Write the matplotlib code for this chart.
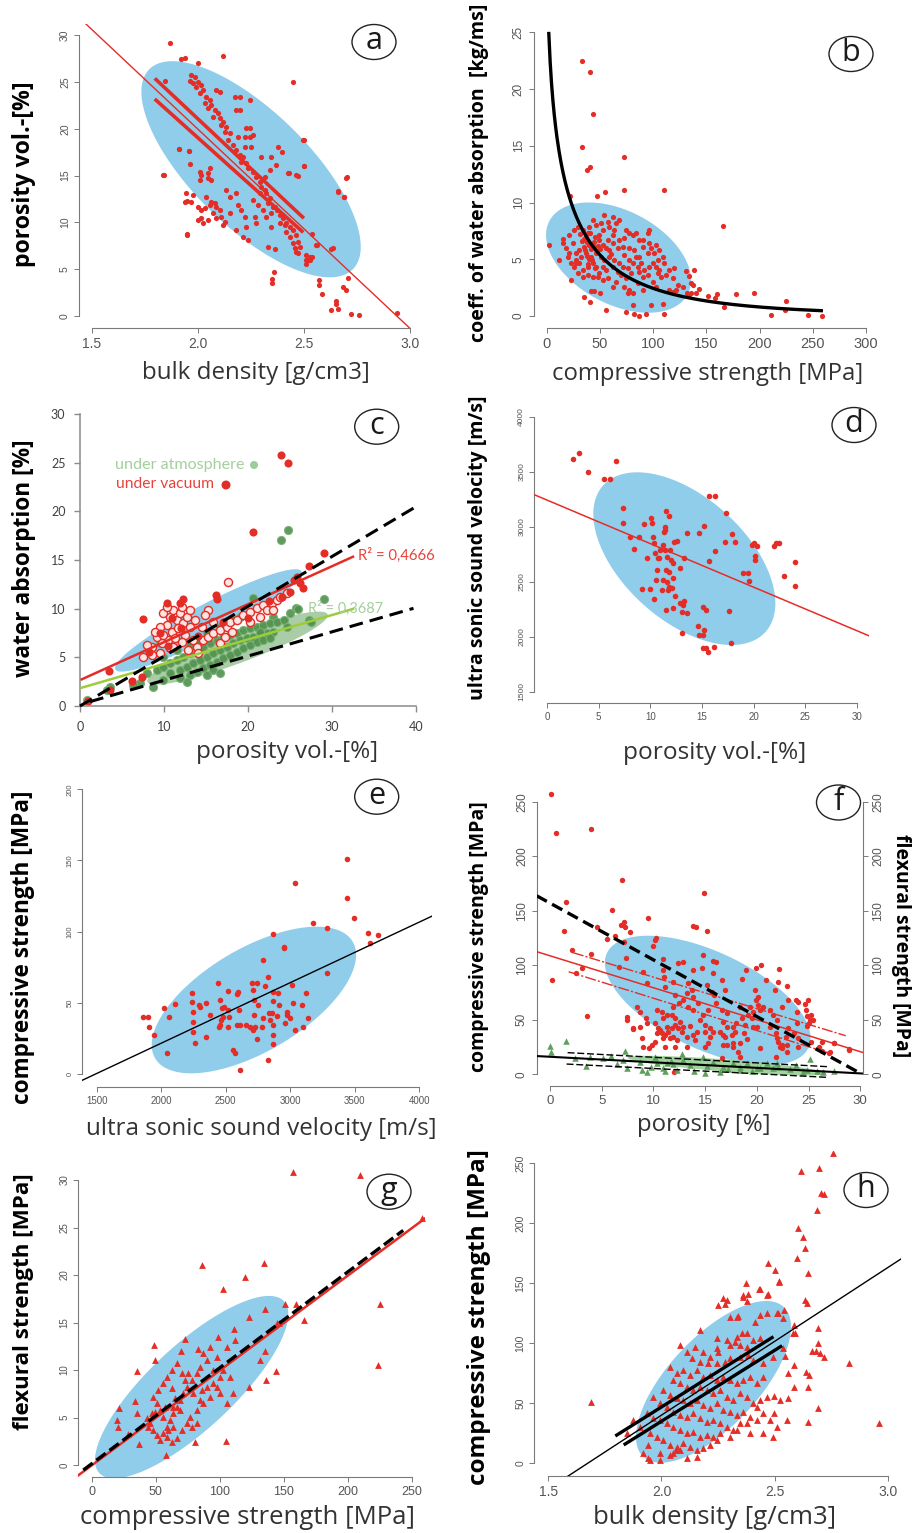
import numpy as np
import matplotlib
matplotlib.use('Agg')
import matplotlib.pyplot as plt
from matplotlib.patches import Ellipse, Polygon

plt.rcParams['font.family'] = ['Liberation Sans', 'DejaVu Sans']

# ------------------------------------------------------------------ DATA
# (a) bulk density [g/cm3] vs porosity [%]
a_points = [
    (1.868, 29.1), (1.920, 27.4), (1.940, 27.6), (2.000, 27.0), (2.120, 27.8), (1.847, 25.1), (2.450, 25.0),
    (1.836, 15.05), (1.910, 17.8), (1.960, 17.6), (1.950, 12.3), (1.950, 8.7), (2.497, 18.8), (2.500, 16.0),
    (2.428, 15.3), (2.470, 15.0), (2.700, 14.7), (2.660, 13.3), (2.690, 12.7), (2.540, 8.8), (2.560, 7.6),
    (2.630, 7.2), (2.530, 6.3), (2.520, 6.0), (2.510, 5.6), (2.360, 4.7), (2.350, 4.0), (2.350, 3.5),
    (2.570, 3.8), (2.570, 3.3), (2.585, 2.3), (2.710, 4.1), (2.685, 3.1), (2.700, 2.8), (2.650, 1.6),
    (2.650, 1.3), (2.630, 0.6), (2.720, 0.2), (2.760, 0.1), (2.937, 0.3), (2.660, 0.8),
    (1.970, 25.72), (1.986, 25.54), (1.962, 25.12), (1.978, 24.83), (2.001, 25.01), (2.017, 24.66),
    (1.993, 24.48), (2.025, 24.12), (2.009, 23.77), (2.040, 23.41), (2.056, 23.06), (2.033, 22.70),
    (2.064, 22.52), (2.048, 22.17), (2.080, 21.99), (2.095, 21.63), (2.072, 21.28), (2.103, 21.10),
    (2.119, 20.74), (2.111, 20.39), (2.135, 20.21), (2.127, 19.68), (2.150, 19.50), (2.143, 18.79),
    (2.166, 18.25), (2.182, 17.72), (2.198, 17.19), (2.213, 17.01), (2.205, 16.47), (2.229, 16.30),
    (2.237, 15.76), (2.260, 15.41), (2.276, 14.87), (2.292, 14.34), (2.300, 13.81), (2.316, 13.45),
    (2.323, 13.10), (2.339, 12.56), (2.331, 12.03), (2.355, 11.67), (2.371, 11.32), (2.386, 10.78),
    (2.402, 10.43), (2.418, 9.89), (2.433, 9.54), (2.449, 9.18), (2.465, 8.65), (2.473, 7.94),
    (2.481, 7.40), (2.465, 6.87), (2.512, 6.51), (2.528, 5.98),
    (2.088, 24.12), (2.103, 23.94), (2.174, 23.41), (2.198, 23.41), (2.182, 21.99), (2.198, 21.99),
    (2.245, 23.06), (2.229, 20.03), (2.245, 20.03), (2.190, 19.07), (2.221, 19.07), (2.245, 19.07),
    (2.260, 19.32), (2.221, 18.07), (2.253, 18.07), (2.300, 17.01), (2.347, 17.01), (2.378, 18.07),
    (2.399, 17.54), (2.367, 16.12), (2.339, 15.59), (2.426, 15.30), (2.465, 15.05), (2.501, 16.01),
    (2.500, 18.79), (2.316, 14.87),
    (2.009, 15.41), (2.017, 15.05), (2.048, 15.23), (2.056, 15.76), (2.064, 14.52), (2.048, 14.70),
    (2.009, 14.52), (1.946, 13.10), (1.978, 12.92), (1.938, 12.21), (1.970, 12.21), (2.001, 11.67),
    (2.017, 11.32), (2.033, 11.49), (2.056, 11.85), (2.064, 12.21), (2.080, 12.03), (2.088, 11.67),
    (2.103, 11.32), (2.072, 10.96), (2.111, 10.61), (2.088, 10.43), (2.048, 10.25), (2.025, 9.89),
    (2.119, 9.72), (2.127, 10.07), (2.150, 10.96), (1.912, 17.79), (1.959, 17.65), (1.965, 16.23),
    (1.839, 15.02), (1.949, 8.72), (2.017, 10.43), (2.001, 10.25), (2.040, 12.74),
    (2.135, 13.45), (2.150, 12.74), (2.182, 13.10), (2.190, 11.85), (2.205, 11.32), (2.221, 10.61),
    (2.229, 9.54), (2.182, 9.18), (2.213, 8.47), (2.237, 8.11), (2.292, 13.10), (2.260, 12.38),
    (2.284, 11.85), (2.308, 11.32), (2.268, 10.61), (2.276, 9.89), (2.323, 10.61), (2.347, 10.96),
    (2.363, 11.67), (2.347, 9.54), (2.386, 9.89), (2.410, 9.72), (2.418, 9.00), (2.433, 8.47),
    (2.449, 7.76), (2.457, 7.22), (2.473, 6.69), (2.331, 7.40), (2.363, 7.12), (2.559, 7.58),
    (2.512, 5.98), (2.536, 6.34), (2.638, 7.22), (2.661, 13.27), (2.690, 12.67), (2.701, 14.80),
]
a_fit_full = (-21.28, 62.52)                       # slope, intercept
a_fit_parts = [(-21.25, 63.56, 1.797, 2.500), (-20.34, 59.72, 1.797, 2.497)]
a_ellipse = (2.251, 15.67, 0.517, 11.54, -0.717)   # cx, cy, half-width, half-height, correlation

# (b) compressive strength [MPa] vs coefficient of water absorption [kg/ms]
b_points = [
    (2.5, 6.26), (15, 6.76), (21.3, 7.1), (21.9, 10.6), (22.9, 3.2), (33.2, 22.5), (40.7, 21.5), (43.2, 17.8),
    (33.2, 14.9), (37.6, 12.9), (40.7, 13.1), (72.3, 14.0), (73.0, 11.1), (47.0, 10.6), (55.1, 10.9),
    (110, 11.1), (165.4, 7.9), (35.4, 1.7), (40.7, 1.2), (41.7, 2.2), (44.8, 2.2), (50, 2.0), (55.7, 0.5),
    (74.5, 0.4), (81.7, 0.15), (86.4, 0.0), (93.3, 0.2), (110.6, 0.2), (109, 1.1), (80.8, 2.0), (80.8, 1.0),
    (76.1, 2.0), (98, 1.0), (134, 3.5), (135.6, 2.9), (137.2, 2.7), (138.7, 4.05), (130.9, 4.0), (131.9, 2.0),
    (134, 1.85), (135.6, 2.0), (140.3, 2.0), (143.4, 2.4), (151.3, 1.8), (158.5, 1.6), (159.7, 1.9),
    (166.9, 0.8), (177.9, 1.9), (195.1, 2.0), (210.8, 0.1), (224.9, 1.3), (224.2, 0.5), (245.2, 0.1),
    (258.4, 0.0), (120, 4.2), (121.5, 2.3), (115.3, 2.3), (118.4, 2.1),
    (26.0, 7.58), (29.1, 7.87), (33.8, 7.58), (38.5, 7.28), (43.2, 8.46), (46.4, 8.02), (51.0, 8.17),
    (52.6, 7.58), (57.3, 8.31), (58.9, 7.87), (63.6, 7.58), (65.1, 8.17), (54.2, 8.90), (62.0, 8.75),
    (68.3, 8.46), (74.5, 7.58), (77.7, 7.28), (73.0, 6.84), (80.8, 7.14), (83.9, 7.28), (87.1, 6.70),
    (94.9, 7.28), (96.5, 7.58), (90.2, 6.11), (94.9, 5.52), (87.1, 5.23), (77.7, 5.96), (71.4, 6.11),
    (66.7, 5.96), (62.0, 6.40), (57.3, 6.70), (49.5, 6.70), (44.8, 6.55), (40.1, 6.26), (35.4, 6.11),
    (30.7, 5.82), (27.6, 5.52), (24.4, 6.40), (21.3, 5.52), (27.6, 4.93), (32.3, 5.23), (37.0, 5.52),
    (41.7, 5.23), (46.4, 5.52), (51.0, 5.23), (54.2, 4.93), (58.9, 5.23), (63.6, 4.93), (68.3, 4.64),
    (71.4, 4.35), (76.1, 4.20), (80.8, 4.64), (85.5, 4.35), (88.6, 4.64), (91.8, 4.05), (96.5, 4.35),
    (99.6, 4.64), (102.7, 4.35), (105.9, 4.05), (101.2, 5.52), (104.3, 4.93), (109.0, 5.23), (98.0, 5.96),
    (96.5, 6.40), (82.4, 5.82), (83.9, 5.23), (79.2, 3.76), (74.5, 3.32), (69.8, 3.61), (66.7, 3.91),
    (62.0, 4.35), (55.7, 4.05), (49.5, 3.76), (46.4, 4.35), (43.2, 4.64), (38.5, 4.35), (33.8, 4.05),
    (30.7, 4.64), (26.0, 4.35), (22.9, 4.64), (19.7, 5.23), (18.2, 5.96), (15.0, 6.40), (11.9, 4.93),
    (38.5, 3.61), (43.2, 3.47), (47.9, 3.47), (52.6, 3.17), (57.3, 3.32), (65.1, 3.03), (73.0, 2.59),
    (77.7, 2.29), (85.5, 2.88), (90.2, 3.47), (94.9, 3.61), (99.6, 3.03), (104.3, 3.76), (107.4, 3.47),
    (112.1, 3.61), (115.3, 4.05), (118.4, 3.32), (123.1, 2.73), (127.8, 2.59), (102.7, 2.59), (90.2, 2.29),
    (62.0, 2.59), (27.6, 4.64), (29.1, 3.76), (33.8, 3.47), (52.6, 4.35), (58.9, 5.82), (37.0, 6.99),
    (40.1, 7.87), (49.5, 7.14), (62.0, 7.14), (73.0, 5.37), (77.7, 4.93), (87.1, 3.91), (105.9, 5.82),
    (110.6, 4.64), (102.7, 6.26), (90.2, 6.70), (68.3, 6.70),
    (36, 5.8), (38, 6.5), (42, 5.9), (44, 6.1), (47, 5.7), (40, 5.0), (43, 4.9), (38, 5.3), (35, 6.8),
    (41, 7.3), (45, 7.0), (48, 6.2), (39, 4.6), (33, 6.6), (31, 7.2), (50, 5.9), (53, 6.3), (56, 6.0),
    (60, 5.5), (45, 4.2),
]
b_curve = (36.5, 0.2705, 2.0, 258.0)       # y = A*exp(-k*sqrt(x)), x range
b_ellipse = (67.5, 5.15, 68.1, 4.86, -0.41)

# (c) porosity [%] vs water absorption [%]
c_vacuum_filled = [
    (23.95, 25.79), (24.74, 24.93), (20.57, 17.91), (28.99, 15.69), (27.32, 14.38), (25.81, 13.29),
    (26.21, 12.60), (25.02, 11.75), (25.42, 12.95), (16.2, 11.4), (16.28, 10.96), (12.31, 10.96),
    (11.91, 10.55), (10.41, 10.55), (7.47, 8.94), (3.49, 3.63), (6.16, 2.60), (7.35, 3.01), (3.57, 1.64),
    (0.9, 0.5), (26.6, 12.1), (11.0, 9.0), (12.0, 8.0), (9.5, 7.5), (14.0, 7.2), (17.0, 8.6), (20.0, 9.0),
    (8.2, 5.5), (10.5, 6.2), (22.5, 10.8), (24.0, 11.2),
]
c_vacuum_hollow = [
    (9.93, 9.52), (10.72, 9.18), (11.12, 9.86), (11.52, 8.84), (11.91, 9.52), (12.31, 8.50), (12.71, 9.18),
    (10.33, 8.33), (9.53, 8.15), (10.92, 7.64), (11.72, 7.98), (12.51, 7.30), (13.11, 8.15), (13.70, 8.84),
    (10.52, 6.78), (11.32, 6.95), (12.11, 6.61), (9.13, 7.12), (9.73, 6.44), (8.54, 6.10), (7.94, 6.27),
    (10.72, 5.93), (13.90, 6.10), (14.69, 6.78), (15.29, 7.12), (15.89, 7.47), (16.68, 7.81), (17.47, 8.15),
    (17.87, 8.67), (18.67, 8.84), (19.46, 9.35), (20.25, 9.69), (21.05, 10.04), (21.84, 10.38), (22.24, 9.86),
    (22.84, 10.55), (23.43, 10.89), (23.83, 11.23), (24.62, 11.58), (15.29, 9.86), (14.89, 9.35),
    (15.89, 8.67), (14.50, 8.15), (13.50, 6.78), (12.91, 5.75), (14.10, 5.41), (9.53, 5.41), (7.55, 5.07),
    (8.54, 5.24), (16.68, 6.44), (17.28, 7.12), (18.07, 7.64), (20.25, 8.67), (21.45, 9.18), (23.03, 9.86),
    (10.33, 10.21), (12.11, 10.21), (13.11, 9.86), (8.94, 7.64), (9.93, 7.30), (11.12, 6.10), (17.67, 12.77),
]
c_atmosphere = [
    (24.74, 18.08), (23.95, 17.06), (28.99, 11.0), (25.73, 10.03), (25.02, 9.52), (23.03, 9.18), (27.32, 8.84),
    (20.65, 11.06), (7.94, 3.36), (9.13, 3.70), (9.93, 4.04), (10.72, 4.38), (11.52, 4.73), (12.31, 5.07),
    (13.11, 5.41), (13.90, 5.75), (14.69, 6.10), (15.49, 6.44), (16.28, 6.78), (17.08, 7.12), (17.87, 7.30),
    (18.67, 7.47), (19.46, 7.81), (20.25, 7.98), (21.05, 8.15), (21.84, 8.33), (22.64, 8.50), (23.43, 8.67),
    (24.23, 8.84), (10.72, 3.36), (11.91, 3.70), (12.71, 4.04), (13.50, 4.38), (14.30, 4.73), (15.09, 5.07),
    (15.89, 5.41), (16.68, 5.75), (17.47, 6.10), (18.27, 6.44), (19.06, 6.78), (19.86, 6.95), (20.65, 7.12),
    (21.45, 7.30), (22.24, 7.47), (23.03, 7.64), (11.91, 2.84), (13.11, 3.19), (13.90, 3.53), (14.69, 3.87),
    (15.49, 4.21), (16.28, 4.56), (17.08, 4.90), (17.87, 5.24), (18.67, 5.58), (19.46, 5.93), (20.25, 6.27),
    (21.05, 6.61), (21.84, 6.78), (22.64, 6.95), (12.71, 2.50), (15.89, 3.70), (16.68, 3.36), (15.09, 3.19),
    (9.93, 2.67), (7.15, 2.33), (8.74, 1.99), (6.35, 2.16), (3.57, 1.99), (3.18, 1.65), (0.79, 0.62),
    (9.93, 5.07), (11.52, 5.75), (13.11, 6.27), (13.90, 6.78), (15.09, 7.47), (16.68, 8.15), (18.07, 8.84),
    (19.06, 9.18), (21.45, 7.64), (24.62, 8.15), (9.53, 6.44), (26.0, 10.0), (27.5, 8.6),
]
c_fit_vacuum = (0.39, 2.66, 0.2, 32.5)
c_fit_atmosphere = (0.2505, 1.83, 0.2, 32.5)
c_ref_lines = [(0.512, 0.0, 0.0, 40.3), (0.249, 0.15, 1.2, 39.7)]
c_r2_vacuum = 'R² = 0,4666'
c_r2_atmosphere = 'R² = 0,3687'
c_ellipse_vacuum = (15.29, 8.79, 11.12, 5.26, 0.93)
c_ellipse_atmosphere = (18.75, 5.95, 10.75, 3.75, 0.90)

# (d) porosity [%] vs ultrasonic velocity [m/s]
d_points = [
    (2.55, 3615), (3.13, 3673), (4.0, 3494), (5.55, 3433), (6.1, 3433), (6.68, 3600), (7.32, 3173), (7.32, 3036),
    (8.03, 2903), (8.45, 2797), (8.94, 2909), (9.16, 2433), (9.35, 3021), (9.65, 2718), (9.97, 2433),
    (10.06, 3082), (10.16, 3036), (10.29, 2909), (10.39, 2848), (10.39, 2339), (10.48, 2758), (10.61, 2606),
    (10.55, 2515), (10.71, 2712), (10.81, 2712), (10.94, 2788), (11.1, 2424), (11.19, 2515), (11.26, 2833),
    (11.32, 2955), (11.42, 2970), (11.45, 3000), (11.52, 3145), (11.77, 3097), (11.45, 2788), (11.58, 2727),
    (11.52, 2606), (11.58, 2500), (11.68, 2424), (11.84, 2454), (11.52, 2242), (11.9, 2788), (12.0, 2697),
    (12.16, 2530), (12.23, 2667), (11.84, 2591), (12.32, 2864), (12.55, 2870), (12.1, 2439), (12.16, 2258),
    (12.39, 2370), (12.87, 2627), (13.23, 2718), (12.9, 2303), (13.13, 2288), (13.29, 2327), (13.06, 2227),
    (13.55, 2218), (13.06, 2030), (13.58, 2939), (14.68, 2939), (14.65, 2097), (14.74, 2015), (15.06, 2015),
    (15.23, 2061), (15.23, 3009), (15.13, 2273), (15.39, 2242), (15.13, 1894), (15.39, 1894), (15.55, 1864),
    (15.65, 2691), (15.71, 3279), (16.29, 3279), (16.13, 1903), (16.29, 2779), (17.26, 2858), (17.32, 3121),
    (17.58, 2233), (17.81, 1939), (17.9, 2930), (18.23, 2858), (18.94, 2576), (19.48, 2576), (19.58, 2509),
    (19.84, 2833), (20.06, 2855), (20.32, 2827), (20.13, 2697), (20.16, 2736), (22.0, 2824), (22.16, 2855),
    (22.48, 2855), (22.9, 2555), (24.0, 2676), (24.0, 2464),
]
d_fit = (-39.6, 3242.0)
d_ellipse = (13.29, 2709.5, 8.81, 785.0, -0.517)

# (e) ultrasonic velocity [m/s] vs compressive strength [MPa]
e_points = [
    (1862, 40.3), (1896, 39.8), (1908, 33.3), (1944, 27.4), (2022, 46.6), (2042, 14.5), (2063, 40.3),
    (2107, 48.9), (2236, 57.1), (2236, 50.8), (2244, 43.8), (2244, 36.8), (2249, 29.7), (2262, 22.0),
    (2295, 48.5), (2300, 46.8), (2345, 26.2), (2347, 50.1), (2378, 41.5), (2437, 63.7), (2456, 52.0),
    (2468, 46.1), (2461, 37.9), (2456, 34.4), (2450, 32.8), (2487, 46.8), (2476, 40.3), (2515, 32.8),
    (2520, 58.5), (2520, 45.0), (2528, 40.3), (2559, 16.9), (2572, 15.0), (2585, 56.2), (2598, 57.8),
    (2590, 34.4), (2610, 34.4), (2657, 34.4), (2688, 33.3), (2605, 45.0), (2611, 2.8), (2701, 63.7),
    (2709, 59.0), (2719, 52.0), (2719, 41.5), (2727, 33.3), (2709, 30.9), (2740, 64.2), (2747, 48.5),
    (2740, 24.4), (2786, 80.1), (2791, 39.1), (2804, 61.8), (2778, 32.8), (2830, 67.9), (2838, 43.1),
    (2830, 9.8), (2843, 37.9), (2856, 42.6), (2869, 98.1), (2864, 57.8), (2864, 51.5), (2864, 34.4),
    (2869, 27.4), (2864, 21.1), (2908, 56.7), (2915, 48.5), (2900, 40.7), (2951, 89.5), (2951, 88.3),
    (2959, 35.6), (2972, 43.8), (2977, 41.5), (2998, 39.1), (3011, 62.5), (3024, 50.1), (3037, 30.9),
    (3037, 134.4), (3088, 48.5), (3101, 32.8), (3122, 57.1), (3140, 39.1), (3179, 105.9), (3282, 102.3),
    (3287, 70.7), (3437, 150.8), (3437, 123.9), (3496, 109.8), (3605, 98.8), (3618, 92.3), (3677, 97.7),
]
e_fit = (0.04253, -63.4)
e_ellipse = (2718.0, 52.0, 792.0, 51.5, 0.614)

# (f) porosity [%] vs compressive (red) and flexural (green) strength [MPa]
f_compressive = [
    (0.06, 257), (0.55, 221.6), (3.94, 225), (7.0, 178), (0.16, 86.5), (1.52, 157.7), (1.36, 131.4),
    (2.16, 114), (2.55, 92.6), (3.07, 97.8), (3.55, 53.8), (3.94, 110), (4.59, 135.4), (5.55, 124.4),
    (6.04, 150.7), (6.3, 126.8), (6.85, 137), (7.17, 139.4), (7.23, 134.8), (7.17, 121.6), (7.33, 106.4),
    (7.72, 130.2), (7.43, 49.8), (8.04, 41.3), (9.49, 143.6), (9.59, 23.8), (10.24, 125.3), (14.85, 166.6),
    (13.79, 136), (14.11, 135.4), (15.14, 131.4), (12.0, 2.4), (19.92, 97.8), (22.18, 96.3), (23.8, 68.2),
    (24.93, 68.2), (24.7, 64.2), (25.25, 54.4), (25.09, 46.8), (25.4, 49.8), (26.3, 21.4), (26.96, 19.3),
    (27.5, 28.4), (28.9, 22.9),
    (10.14, 123.2), (9.98, 117.6), (10.89, 105.4), (8.95, 94.1), (9.34, 83.4), (10.95, 95.7), (11.02, 88.9),
    (11.11, 80.4), (11.92, 85.0), (12.40, 101.8), (12.89, 103.3), (13.86, 95.6), (14.73, 97.2), (14.76, 109.4),
    (15.80, 103.9), (16.05, 103.0), (15.80, 92.6), (15.15, 81.9), (15.63, 75.8), (15.86, 72.7), (16.6, 86.5),
    (16.93, 77.3), (18.54, 87.1), (18.96, 95.6), (20.38, 100.2), (20.90, 86.5), (22.09, 85.0), (22.9, 81.0),
    (21.77, 77.3), (19.83, 77.3), (20.16, 71.2), (19.93, 68.1), (20.16, 63.6), (20.32, 59.0), (19.67, 57.4),
    (19.35, 62.0), (19.19, 54.4), (19.51, 51.3), (20.64, 62.0), (21.29, 59.0), (21.61, 54.4), (21.93, 49.8),
    (21.29, 43.7), (21.87, 37.6), (22.09, 29.9), (22.42, 26.9), (22.9, 26.9), (22.84, 34.5), (22.97, 42.1),
    (23.55, 37.6), (23.87, 46.7), (24.03, 66.6), (24.78, 59.0), (24.84, 53.5), (25.1, 49.8), (23.87, 57.4),
    (22.42, 62.0), (22.97, 68.1), (18.38, 62.0), (18.54, 51.3), (18.86, 45.2), (17.99, 46.7), (17.89, 39.1),
    (18.77, 37.6), (19.03, 32.1), (18.38, 28.4), (16.6, 59.0), (17.09, 55.9), (16.76, 48.3), (17.15, 43.7),
    (17.73, 43.7), (16.05, 65.1), (15.31, 59.0), (14.83, 54.4), (14.5, 49.8), (14.99, 45.2), (15.47, 42.1),
    (15.8, 39.1), (16.44, 39.1), (14.99, 39.1), (15.47, 34.5), (14.18, 39.1), (17.73, 28.4), (17.57, 36.0),
    (16.93, 34.5), (16.7, 36.0), (18.22, 20.7), (13.37, 83.4), (13.7, 77.3), (13.21, 74.2), (12.89, 68.1),
    (13.37, 62.0), (13.86, 59.0), (14.34, 65.1), (13.86, 71.2), (12.08, 72.7), (12.5, 65.1), (11.92, 62.0),
    (11.76, 54.4), (12.08, 51.3), (11.27, 54.4), (10.79, 57.4), (10.95, 51.3), (10.3, 59.0),
    (10.14, 46.7), (10.47, 42.1), (10.79, 37.6), (11.11, 36.0), (11.44, 39.1), (11.76, 42.1), (12.08, 45.2),
    (12.40, 42.1), (12.73, 39.1), (11.92, 34.5), (12.24, 31.4), (11.6, 33.0), (10.95, 33.0), (10.63, 40.6),
    (11.27, 43.7), (10.3, 37.6), (13.21, 34.5), (12.89, 43.7), (12.57, 48.3), (11.11, 25.3), (12.08, 25.3),
    (10.14, 29.9), (9.82, 26.9), (13.21, 25.3), (13.86, 36.0), (14.02, 31.4), (13.53, 44.3),
    (8.37, 62.0), (8.69, 57.4), (9.27, 51.3), (9.34, 46.7), (8.69, 43.7), (7.4, 52.8), (7.98, 42.1),
    (9.01, 25.3), (8.85, 33.0), (15.31, 28.4), (14.99, 25.3), (16.6, 14.6), (17.73, 25.3), (16.76, 26.9),
    (17.09, 26.9), (18.38, 16.2), (20.32, 23.8), (19.67, 43.7), (19.99, 43.7), (21.87, 16.2), (22.42, 23.8),
    (6.69, 98.1), (26.29, 29.9), (27.42, 29.0), (28.88, 22.3), (27.1, 20.7), (25.97, 25.3), (25.23, 29.9),
    (24.84, 44.3), (23.97, 33.0), (23.97, 25.3), (22.9, 20.7), (22.26, 25.3), (22.0, 33.0),
]
f_flexural = [
    (0.0, 26.0), (0.13, 20.8), (1.58, 30.8), (3.46, 7.6), (7.24, 21.7), (5.94, 16.8), (7.46, 5.5), (8.85, 3.9),
    (9.34, 1.8), (10.14, 16.2), (10.95, 5.5), (11.11, 3.3), (11.27, 10.1), (12.73, 18.6), (12.89, 13.1),
    (14.83, 15.5), (14.99, 1.5), (15.8, 11.6), (16.44, 2.4), (17.73, 10.0), (18.38, 3.9), (19.03, 10.6),
    (20.32, 5.5), (20.96, 10.0), (21.93, 10.6), (22.09, 6.9), (25.16, 13.7), (27.42, 3.3), (3.84, 16.2),
    (5.14, 14.6), (7.07, 13.1), (8.69, 11.6), (10.3, 10.0), (11.92, 9.4), (13.53, 8.5), (15.15, 7.9),
    (16.76, 7.0), (18.38, 7.0), (19.99, 6.1), (21.61, 5.5), (23.22, 4.8), (24.84, 3.9), (25.81, 3.3),
    (26.45, 2.4), (9.8, 6.5), (12.3, 4.2), (13.9, 3.0), (17.2, 4.5), (19.5, 2.8), (23.8, 8.2), (24.5, 1.8),
    (11.7, 12.0), (6.5, 9.5), (2.4, 15.2),
]
f_fit_dashed_thick = (-5.2, 157.0, -1.3, 30.1)
f_fit_red = (-2.93, 108.7)
f_fit_red_bands = [(-2.888, 118.0, 2.2, 28.6), (-2.962, 99.4, 1.8, 27.0)]
f_fit_black = (-0.508, 16.1)
f_fit_black_bands = [(-0.512, 20.76, 1.7, 26.9), (-0.483, 10.2, 1.6, 26.9)]
f_ellipse_comp = (15.25, 67.8, 9.95, 59.3, -0.58)
f_ellipse_flex = (17.1, 8.0, 9.6, 9.0, -0.79)

# (g) compressive vs flexural strength [MPa]
g_points = [
    (157.2, 30.8), (209.2, 30.5), (257.3, 26.0), (224.8, 17.0), (223.0, 10.5), (86.3, 21.1), (102.7, 18.5),
    (119.5, 19.8), (134.6, 21.3), (150.7, 17.0), (159.3, 17.0), (165.5, 15.3), (135.1, 16.4), (146.3, 15.0),
    (144.2, 15.0), (122.9, 15.6), (111.0, 14.3), (98.8, 13.5), (72.8, 13.3), (69.6, 12.0), (82.6, 12.2),
    (48.6, 12.6), (49.4, 11.05), (35.1, 9.9), (131.2, 11.05), (135.1, 12.0), (122.9, 8.2), (135.9, 9.0),
    (143.5, 9.9), (104.7, 2.5), (57.7, 1.1), (37.2, 2.2), (80.6, 2.4), (21.6, 6.0), (19.8, 4.7), (20.8, 4.0),
    (28.6, 3.3), (33.8, 6.7), (35.1, 5.5),
    (42.9, 4.91), (45.5, 4.39), (48.1, 3.68), (50.7, 3.16), (53.3, 2.63), (55.9, 3.33), (58.5, 4.04),
    (61.1, 4.74), (63.7, 5.44), (66.3, 6.14), (68.9, 6.84), (71.5, 7.54), (74.1, 8.25), (78.0, 8.95),
    (81.9, 9.65), (84.5, 10.35), (89.7, 11.05), (94.9, 10.0), (100.1, 9.30), (97.5, 8.25), (92.3, 7.19),
    (87.1, 6.49), (81.9, 5.79), (76.7, 5.09), (74.1, 4.39), (70.2, 3.68), (66.3, 2.81), (62.4, 2.46),
    (59.8, 3.68), (55.9, 5.09), (53.3, 5.79), (50.7, 6.49), (48.1, 7.19), (52.0, 7.89), (55.9, 8.60),
    (58.5, 9.30), (62.4, 10.0), (66.3, 10.70), (70.2, 9.65), (72.8, 8.95), (75.4, 9.65), (79.3, 7.54),
    (84.5, 6.84), (89.7, 8.25), (94.9, 8.60), (100.1, 7.54), (105.2, 6.49), (110.4, 7.54), (107.8, 9.30),
    (102.7, 10.0), (97.5, 11.40), (92.3, 12.46), (87.1, 11.75), (68.9, 5.79), (63.7, 4.04), (58.5, 2.98),
    (46.8, 5.44), (44.2, 4.04), (49.4, 5.61), (65.0, 7.02), (62.4, 8.07), (57.2, 6.14), (63.7, 6.14),
    (78.0, 4.04), (81.9, 4.39), (85.8, 7.89), (105.2, 12.46), (111.7, 13.16),
]
g_fit_red = (0.1, -0.04)
g_fit_dashed = (0.1011, 0.13, -6.5, 243.0)
g_ellipse = (78.0, 8.2, 75.4, 9.6, 0.8)

# (h) bulk density [g/cm3] vs compressive strength [MPa]
h_points = [
    (1.689, 50.4), (2.960, 33.4), (2.830, 83.5), (2.757, 258.4), (2.617, 243.9), (2.698, 245.8), (2.705, 225.5),
    (2.72, 224.4), (2.688, 211.0), (2.605, 196.3), (2.624, 188.2), (2.636, 179.0), (2.598, 171.2),
    (2.646, 158.7), (2.470, 167.0), (2.503, 160.9), (2.518, 152.0), (2.433, 144.8), (2.470, 140.9),
    (2.514, 125.3), (2.543, 127.5), (2.636, 135.9), (2.643, 133.1), (2.587, 115.0), (2.591, 108.6),
    (2.690, 112.2), (2.690, 99.7), (2.665, 93.5), (2.683, 93.5), (2.701, 91.3), (2.717, 88.0), (2.639, 76.0),
    (2.651, 73.2), (2.646, 63.5), (2.587, 63.5), (2.587, 81.6), (2.558, 74.6), (2.548, 89.1), (2.558, 53.7),
    (2.499, 55.7), (2.499, 41.8), (2.447, 25.1), (2.690, 45.4), (2.646, 33.7), (2.381, 140.9), (2.359, 140.0),
    (2.373, 149.8), (2.282, 132.2), (2.248, 131.7), (1.939, 3.6), (2.064, 10.6),
    (2.435, 144.8), (2.521, 151.2), (2.465, 140.0), (2.362, 138.0), (2.376, 135.2), (2.288, 135.9),
    (2.273, 137.2), (2.465, 124.7), (2.509, 124.7), (2.538, 120.5), (2.435, 123.3), (2.413, 117.8),
    (2.303, 121.9), (2.332, 121.4), (2.340, 122.5), (2.170, 110.8), (2.244, 103.8), (2.288, 102.4),
    (2.325, 101.1), (2.332, 105.2), (2.354, 108.0), (2.244, 95.5), (2.251, 92.7), (2.303, 98.3), (2.347, 98.3),
    (2.376, 96.9), (2.406, 102.4), (2.435, 103.8), (2.376, 108.0), (2.082, 98.3), (2.111, 92.7), (2.148, 96.9),
    (2.185, 92.7), (2.215, 88.6), (2.134, 87.1), (2.170, 84.4), (2.207, 83.0), (2.244, 83.0), (2.281, 84.4),
    (2.303, 87.1), (2.347, 88.6), (2.384, 89.9), (2.406, 85.7), (2.450, 83.0), (2.494, 88.6), (2.538, 95.5),
    (2.583, 108.0),
    (2.038, 80.2), (2.067, 74.6), (2.097, 77.4), (2.126, 73.2), (2.156, 77.4), (2.185, 71.8), (2.215, 73.2),
    (2.244, 69.1), (2.273, 71.8), (2.303, 69.1), (2.332, 66.3), (2.362, 69.1), (2.391, 71.8), (2.421, 66.3),
    (2.450, 71.8), (2.052, 69.1), (2.082, 66.3), (2.111, 63.5), (2.141, 60.7), (2.170, 63.5), (2.200, 60.7),
    (2.229, 57.9), (2.259, 60.7), (2.288, 55.2), (2.318, 52.4), (2.347, 57.9), (2.376, 55.2), (2.406, 49.6),
    (2.435, 52.4), (2.465, 55.2), (2.008, 60.7), (2.038, 56.5), (2.067, 53.8), (2.097, 52.4), (2.126, 49.6),
    (2.156, 52.4), (2.185, 48.2), (2.215, 45.4), (2.244, 49.6), (2.273, 44.0), (2.303, 42.6), (2.332, 39.8),
    (2.362, 42.6), (2.391, 38.4), (2.421, 35.7), (1.964, 55.2), (1.994, 49.6), (2.023, 46.8), (2.052, 42.6),
    (2.082, 39.8), (2.111, 38.4), (2.141, 41.2), (2.170, 37.1), (2.200, 34.3), (2.229, 35.7), (2.259, 32.9),
    (2.288, 30.1), (2.318, 27.3), (2.347, 32.9), (1.935, 41.2), (1.964, 37.1), (1.994, 35.7), (2.023, 32.9),
    (2.052, 30.1), (2.082, 27.3), (2.111, 24.5), (2.141, 25.9), (2.170, 21.7), (2.200, 23.1), (2.229, 21.7),
    (2.259, 24.5), (1.949, 24.5), (1.979, 21.7), (2.008, 18.9), (2.038, 14.8), (2.067, 13.4), (2.097, 16.2),
    (2.126, 13.4), (2.156, 10.6), (2.185, 12.0), (2.215, 14.8), (2.244, 18.9), (2.303, 21.7), (1.905, 30.1),
    (1.876, 35.7), (1.942, 14.8), (1.994, 7.8), (2.052, 7.8), (2.111, 3.65), (2.156, 5.0), (1.846, 24.5),
    (1.920, 7.8), (1.949, 2.2), (1.994, 2.2), (2.038, 6.4), (2.082, 10.6), (2.421, 46.8), (2.450, 41.2),
    (2.480, 35.7), (2.509, 30.1), (2.391, 24.5), (2.494, 21.7), (2.553, 35.7), (2.524, 52.4), (2.376, 32.9),
    (2.332, 27.3),
]
h_fit_full = (123.2, -206.7)
h_fit_parts = [(118.6, -190.7, 1.796, 2.495), (118.4, -202.2, 1.833, 2.533)]
h_ellipse = (2.230, 67.5, 0.3425, 67.5, 0.68)

# ------------------------------------------------------------------ STYLE
W, H = 913, 1533
RED = '#e52d27'
BLUE = '#90cdea'
AXC = '#7a7a7a'
TXT = '#333333'

fig = plt.figure(figsize=(W / 100, H / 100), dpi=100)
renderer = fig.canvas.get_renderer()


def add_ax(l, t, r, b):
    return fig.add_axes([l / W, 1 - b / H, (r - l) / W, (b - t) / H])


def ellipse_poly(p, **kw):
    cx, cy, ax_, ay_, rho = p
    t = np.linspace(0, 2 * np.pi, 300)
    x = cx + ax_ * np.cos(t)
    y = cy + ay_ * (rho * np.cos(t) + np.sqrt(1 - rho ** 2) * np.sin(t))
    return Polygon(np.column_stack([x, y]), closed=True, ec='none', **kw)


def r_axes(ax, xticks, yticks, xlim, ylim, xfs, yfs, fmt='{:g}'):
    ax.set_xlim(xlim)
    ax.set_ylim(ylim)
    for s in ('top', 'right'):
        ax.spines[s].set_visible(False)
    ax.spines['left'].set_bounds(yticks[0], yticks[-1])
    ax.spines['bottom'].set_bounds(xticks[0], xticks[-1])
    for s in ('left', 'bottom'):
        ax.spines[s].set_color(AXC)
        ax.spines[s].set_linewidth(0.8)
    ax.set_xticks(xticks)
    ax.set_xticklabels([fmt.format(v) for v in xticks])
    ax.set_yticks(yticks)
    ax.set_yticklabels(['{:g}'.format(v) for v in yticks])
    ax.tick_params(direction='out', length=3.5, width=0.7, color=AXC, labelcolor='#555555')
    ax.tick_params(axis='x', labelsize=xfs, pad=3)
    ax.tick_params(axis='y', labelsize=yfs, pad=3)
    for lb in ax.get_yticklabels():
        lb.set_rotation(90)
        lb.set_va('center')
    ax.patch.set_alpha(0)


def line(ax, slope, icpt, x0=None, x1=None, **kw):
    if x0 is None:
        x0, x1 = ax.get_xlim()
    xs = np.array([x0, x1])
    ax.plot(xs, slope * xs + icpt, **kw)


def fit_text(xp, yp, s, target, rot=0, ha='center', **kw):
    t = fig.text(xp / W, 1 - yp / H, s, ha=ha, va='center', rotation=rot, fontsize=12, **kw)
    bb = t.get_window_extent(renderer=renderer)
    cur = bb.height if rot in (90, 270) else bb.width
    t.set_fontsize(12 * target / cur)
    return t


def xlabel(xp, yp, s, width):
    fit_text(xp, yp, s, width, family=['Open Sans', 'DejaVu Sans'], color=TXT)


def ylabel(xp, yp, s, length):
    fit_text(xp, yp, s, length, rot=90, family=['Open Sans', 'DejaVu Sans'], weight='bold', color='black')


def circ_label(cx, cy, letter):
    fig.add_artist(Ellipse((cx / W, 1 - cy / H), 44 / W, 35 / H, transform=fig.transFigure,
                           fill=False, ec='#222222', lw=1.0))
    fig.text(cx / W, 1 - cy / H + 1.0 / H, letter, ha='center', va='center', fontsize=22,
             family=['Open Sans', 'DejaVu Sans'], color='#1a1a1a')


def pts(lst):
    arr = np.array(lst, dtype=float)
    return arr[:, 0], arr[:, 1]


# ------------------------------------------------------------------ (a)
ax = add_ax(79, 23.8, 422.7, 328)
r_axes(ax, [1.5, 2.0, 2.5, 3.0], list(range(0, 31, 5)), (1.44, 3.06), (-1.28, 31.2), 10, 7.5, '{:.1f}')
ax.add_patch(ellipse_poly(a_ellipse, fc=BLUE, zorder=1))
x, y = pts(a_points)
ax.scatter(x, y, s=14, c=RED, lw=0, zorder=2)
line(ax, *a_fit_full, color=RED, lw=1.0, zorder=3)
for sl, ic, x0, x1 in a_fit_parts:
    line(ax, sl, ic, x0, x1, color=RED, lw=2.6, zorder=3, solid_capstyle='butt')
xlabel(256, 373, 'bulk density [g/cm3]', 227)
ylabel(24, 174, 'porosity vol.-[%]', 185)
circ_label(374, 42, 'a')

# ------------------------------------------------------------------ (b)
ax = add_ax(533.7, 21, 878.8, 328.3)
r_axes(ax, list(range(0, 301, 50)), list(range(0, 26, 5)), (-12.2, 312), (-1.08, 26), 10.5, 8.5)
ax.add_patch(ellipse_poly(b_ellipse, fc=BLUE, zorder=1))
x, y = pts(b_points)
ax.scatter(x, y, s=14, c=RED, lw=0, zorder=2)
A, k, x0, x1 = b_curve
xc = np.linspace(x0, x1, 400)
ax.plot(xc, A * np.exp(-k * np.sqrt(xc)), color='black', lw=2.4, zorder=3)
xlabel(707.7, 374, 'compressive strength [MPa]', 310)
ylabel(478.5, 173, 'coeff. of water absorption  [kg/ms]', 337)
circ_label(851, 54, 'b')

# ------------------------------------------------------------------ (c)
ax = add_ax(80, 414, 416, 706)
ax.set_xlim(0, 40)
ax.set_ylim(0, 30)
for s in ('top', 'right'):
    ax.spines[s].set_visible(False)
for s in ('left', 'bottom'):
    ax.spines[s].set_color('#8a8a8a')
    ax.spines[s].set_linewidth(1.1)
ax.set_xticks(range(0, 41, 10))
ax.set_yticks(range(0, 31, 5))
ax.tick_params(direction='out', length=4.5, width=1.0, color='#8a8a8a', labelcolor='#404040',
               labelsize=9, pad=6)
for lb in ax.get_xticklabels() + ax.get_yticklabels():
    lb.set_family(['Lato', 'DejaVu Sans'])
ax.patch.set_alpha(0)
ax.add_patch(ellipse_poly(c_ellipse_vacuum, fc=BLUE, zorder=1))
ax.add_patch(ellipse_poly(c_ellipse_atmosphere, fc='#72ad6c', alpha=0.6, zorder=1.2))
x, y = pts(c_atmosphere)
ax.scatter(x, y, s=34, c='#4f8f4c', edgecolors='#78b274', linewidths=0.8, alpha=0.9, zorder=2)
x, y = pts(c_vacuum_hollow)
ax.scatter(x, y, s=34, c='#fbe4e1', edgecolors=RED, linewidths=1.0, zorder=2.2)
x, y = pts(c_vacuum_filled)
ax.scatter(x, y, s=34, c=RED, lw=0, zorder=2.3)
sl, ic, x0, x1 = c_fit_vacuum
line(ax, sl, ic, x0, x1, color=RED, lw=1.8, zorder=3)
sl, ic, x0, x1 = c_fit_atmosphere
line(ax, sl, ic, x0, x1, color='#9ccc3c', lw=1.8, zorder=3)
for sl, ic, x0, x1 in c_ref_lines:
    line(ax, sl, ic, x0, x1, color='black', lw=2.2, dashes=(4.5, 2.3), zorder=3.5, clip_on=False)
tf = ['Lato', 'DejaVu Sans']
fit_text(115, 465, 'under atmosphere', 129, ha='left', family=tf, color='#a3d09d')
fit_text(116, 484, 'under vacuum', 98, ha='left', family=tf, color='#e8433b')
fig.add_artist(Ellipse((254 / W, 1 - 465 / H), 8 / W, 8 / H, transform=fig.transFigure,
                       fc='#9ccc98', ec='none'))
fig.add_artist(Ellipse((226 / W, 1 - 485 / H), 9 / W, 9 / H, transform=fig.transFigure,
                       fc=RED, ec='none'))
fit_text(358, 555.7, c_r2_vacuum, 77, ha='left', family=tf, color='#e8433b')
fit_text(308, 608.3, c_r2_atmosphere, 75, ha='left', family=tf, color='#a3d09d', zorder=1.5)
xlabel(287.5, 752.5, 'porosity vol.-[%]', 181)
ylabel(24, 558, 'water absorption [%]', 237)
circ_label(376.7, 426.7, 'c')

# ------------------------------------------------------------------ (d)
ax = add_ax(534.3, 405.7, 869.4, 703.3)
r_axes(ax, list(range(0, 31, 5)), list(range(1500, 4001, 500)), (-1.23, 31.2), (1394.5, 4100), 7, 6)
ax.add_patch(ellipse_poly(d_ellipse, fc=BLUE, zorder=1))
x, y = pts(d_points)
ax.scatter(x, y, s=16, c=RED, lw=0, zorder=2)
line(ax, *d_fit, color=RED, lw=1.1, zorder=3)
xlabel(715, 753, 'porosity vol.-[%]', 182)
ylabel(477.7, 548, 'ultra sonic sound velocity [m/s]', 303)
circ_label(854, 425, 'd')

# ------------------------------------------------------------------ (e)
ax = add_ax(82.3, 777.9, 432.2, 1086.7)
r_axes(ax, list(range(1500, 4001, 500)), list(range(0, 201, 50)), (1388, 4100), (-8.9, 208), 7, 5.5)
ax.add_patch(ellipse_poly(e_ellipse, fc=BLUE, zorder=1))
x, y = pts(e_points)
ax.scatter(x, y, s=16, c=RED, lw=0, zorder=2)
line(ax, *e_fit, color='black', lw=1.0, zorder=3)
xlabel(261, 1129, 'ultra sonic sound velocity [m/s]', 348)
ylabel(23, 947, 'compressive strength [MPa]', 313)
circ_label(376.7, 796.7, 'e')

# ------------------------------------------------------------------ (f)
ax = add_ax(537, 790.8, 863.3, 1086)
r_axes(ax, list(range(0, 31, 5)), list(range(0, 251, 50)), (-1.26, 30.3), (-10.7, 260), 9.5, 8.5)
ax.add_patch(ellipse_poly(f_ellipse_comp, fc=BLUE, zorder=1))
ax.add_patch(ellipse_poly(f_ellipse_flex, fc='#8fcc8c', alpha=0.85, zorder=1.1))
x, y = pts(f_compressive)
ax.scatter(x, y, s=15, c=RED, lw=0, zorder=2)
x, y = pts(f_flexural)
ax.scatter(x, y, s=22, c='#5e9f5c', marker='^', lw=0, zorder=2)
line(ax, *f_fit_red, color=RED, lw=1.1, zorder=3)
for sl, ic, x0, x1 in f_fit_red_bands:
    line(ax, sl, ic, x0, x1, color=RED, lw=1.0, dashes=(8, 1.5, 1.5, 1.5), zorder=3)
line(ax, *f_fit_black, color='black', lw=1.5, zorder=3)
for sl, ic, x0, x1 in f_fit_black_bands:
    line(ax, sl, ic, x0, x1, color='black', lw=1.0, dashes=(5, 2), zorder=3)
sl, ic, x0, x1 = f_fit_dashed_thick
line(ax, sl, ic, x0, x1, color='black', lw=2.4, dashes=(3.5, 1.8), zorder=3.5)
ax2 = ax.twinx()
ax2.set_ylim(ax.get_ylim())
for s in ('top', 'left', 'bottom'):
    ax2.spines[s].set_visible(False)
ax2.spines['right'].set_bounds(0, 250)
ax2.spines['right'].set_color(AXC)
ax2.spines['right'].set_linewidth(0.8)
ax2.set_yticks(range(0, 251, 50))
ax2.set_yticklabels([str(v) for v in range(0, 251, 50)])
ax2.tick_params(direction='out', length=3.5, width=0.7, color=AXC, labelcolor='#555555',
                labelsize=8.5, pad=3)
for lb in ax2.get_yticklabels():
    lb.set_rotation(90)
    lb.set_va('center')
xlabel(704, 1125, 'porosity [%]', 133)
ylabel(479, 937, 'compressive strength [MPa]', 270)
fit_text(901, 946, 'flexural strength [MPa]', 222, rot=270,
         family=['Open Sans', 'DejaVu Sans'], weight='bold', color='black')
circ_label(838.5, 802.5, 'f')

# ------------------------------------------------------------------ (g)
ax = add_ax(78.3, 1168.6, 425, 1477.3)
r_axes(ax, list(range(0, 251, 50)), list(range(0, 31, 5)), (-10.4, 260), (-1.29, 31.2), 9, 7)
ax.add_patch(ellipse_poly(g_ellipse, fc=BLUE, zorder=1))
x, y = pts(g_points)
ax.scatter(x, y, s=24, c=RED, marker='^', lw=0, zorder=2)
line(ax, *g_fit_red, color=RED, lw=1.8, zorder=3)
sl, ic, x0, x1 = g_fit_dashed
line(ax, sl, ic, x0, x1, color='black', lw=2.4, dashes=(3.5, 1.4), zorder=3.5)
xlabel(247, 1517.5, 'compressive strength [MPa]', 333)
ylabel(23, 1302, 'flexural strength [MPa]', 257)
circ_label(389, 1191.7, 'g')

# ------------------------------------------------------------------ (h)
ax = add_ax(534.3, 1151.3, 901.3, 1476)
r_axes(ax, [1.5, 2.0, 2.5, 3.0], list(range(0, 251, 50)), (1.438, 3.06), (-11.1, 260), 10, 7.5, '{:.1f}')
ax.add_patch(ellipse_poly(h_ellipse, fc=BLUE, zorder=1))
x, y = pts(h_points)
ax.scatter(x, y, s=24, c=RED, marker='^', lw=0, zorder=2)
line(ax, *h_fit_full, color='black', lw=1.0, zorder=3)
for sl, ic, x0, x1 in h_fit_parts:
    line(ax, sl, ic, x0, x1, color='black', lw=2.4, zorder=3, solid_capstyle='butt')
xlabel(715, 1518, 'bulk density [g/cm3]', 242)
ylabel(478.5, 1317.5, 'compressive strength [MPa]', 335)
circ_label(866, 1190, 'h')

fig.savefig('out.png', dpi=100)
